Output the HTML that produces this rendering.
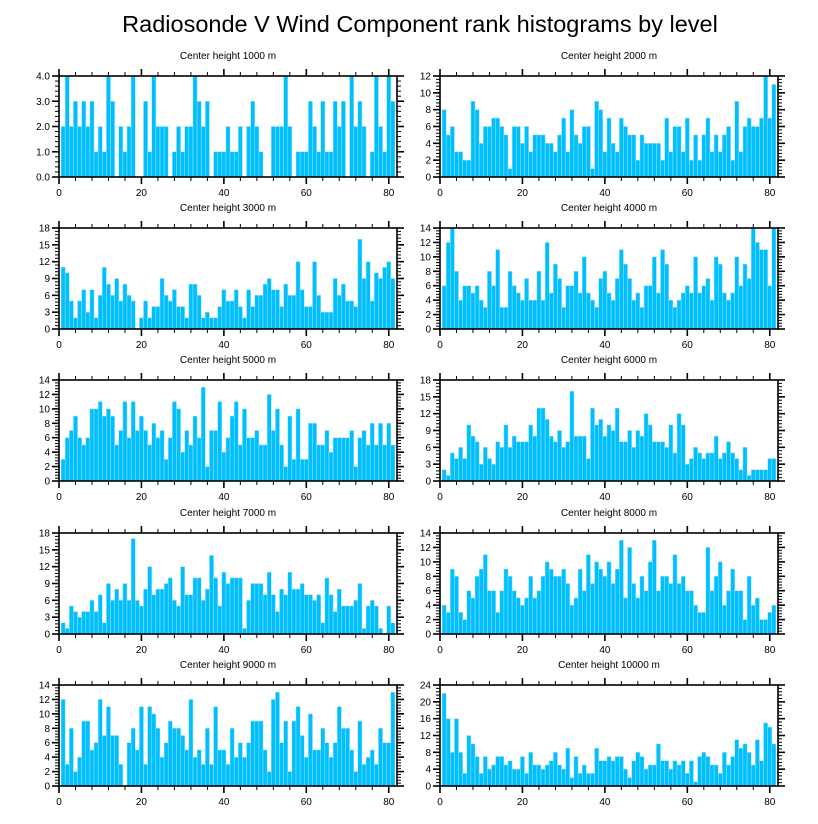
<!DOCTYPE html>
<html><head><meta charset="utf-8">
<style>
body{margin:0;background:#fff;}
svg{display:block;font-family:"Liberation Sans",Arial,sans-serif;}
</style></head>
<body>
<svg id="chart" width="818" height="824" viewBox="0 0 818 824">
<text x="420" y="32" font-size="23.5" text-anchor="middle" fill="#000">Radiosonde V Wind Component rank histograms by level</text>
</svg>
<script>
const levels = [1000,2000,3000,4000,5000,6000,7000,8000,9000,10000];
const yMax = [4,12,18,14,14,18,18,14,14,24];
const yStep = [1,2,3,2,2,3,3,2,2,4];
const xTicks = [0,20,40,60,80];
const h1000 = [2,4,2,3,2,3,2,3,1,2, 1,4,3,0,2,1,2,4,0,0, 3,1,4,2,2,2,0,1,2,1, 2,2,4,3,2,3,0,1,1,1, 2,1,1,2,0,2,3,2,1,0, 0,2,2,2,4,2,0,1,1,1, 3,2,1,3,1,1,3,2,3,0, 4,2,3,2,0,1,4,2,1,4, 3];
const h2000 = [8,5,6,3,3,2,2,9,8,4, 6,6,7,7,6,5,1,6,6,4, 6,3,5,5,5,4,4,3,5,7, 3,8,5,4,6,6,1,9,8,3, 7,4,3,7,6,5,5,2,5,4, 4,4,4,2,7,3,6,6,3,7, 2,5,2,5,7,3,5,3,5,6, 2,9,3,6,7,6,6,7,12,7, 11];
const h3000 = [11,10,5,2,5,7,3,7,2,6, 11,8,6,9,5,8,6,5,0,2, 5,2,4,4,9,6,5,7,4,4, 2,8,8,6,2,3,2,2,4,7, 5,5,7,4,2,7,4,6,6,8, 9,7,7,4,8,6,6,12,7,4, 4,12,6,3,3,3,9,6,8,5, 5,4,16,9,12,5,10,9,11,12, 9];
const h4000 = [6,12,14,8,4,6,6,5,6,4, 3,8,6,11,3,3,8,6,5,4, 7,4,4,8,4,12,5,9,7,3, 6,6,8,5,10,5,4,3,7,8, 5,4,7,11,9,7,4,5,3,6, 6,10,5,11,9,4,3,4,5,6, 5,10,5,6,7,4,10,9,5,4, 5,10,6,9,7,14,12,11,11,6, 14];
const h5000 = [3,6,7,9,6,5,6,10,10,11, 9,10,9,5,7,11,6,11,7,9, 7,5,8,6,7,3,6,11,10,4, 7,5,9,6,13,2,7,7,11,4, 6,9,11,5,10,6,6,7,5,5, 12,7,10,5,2,9,3,10,3,3, 8,8,5,5,7,4,6,6,6,6, 7,2,6,7,5,8,5,8,5,8, 5];
const h6000 = [2,1,5,4,6,4,10,8,7,3, 6,4,3,7,6,10,6,8,7,7, 7,10,8,13,13,11,8,7,9,6, 7,16,8,8,8,4,13,10,11,8, 10,9,13,7,7,9,6,9,8,12, 10,7,7,7,6,10,5,12,10,3, 4,6,5,4,5,5,8,4,5,7, 5,4,2,6,1,2,2,2,2,4, 4];
const h7000 = [2,1,5,4,3,4,4,6,4,7, 2,9,6,8,6,9,6,17,6,5, 8,12,7,8,8,9,10,6,5,12, 7,7,10,10,6,8,14,10,5,11, 9,10,10,10,1,6,9,9,9,7, 11,7,4,8,7,11,8,8,9,7, 7,6,7,2,10,7,4,8,5,5, 5,6,9,1,5,6,5,1,0,5, 2];
const h8000 = [4,3,9,8,3,2,6,5,8,9, 11,6,6,3,6,9,8,6,5,4, 5,8,5,6,8,10,9,8,8,9, 7,4,5,9,6,11,7,10,9,8, 10,7,9,13,5,12,7,5,8,6, 10,13,6,8,8,7,11,7,8,6, 6,4,3,3,12,6,8,10,4,6, 9,6,6,2,8,4,5,2,2,3, 4];
const h9000 = [12,3,8,2,4,9,9,5,6,12, 7,11,7,7,3,0,6,8,5,11, 3,11,10,8,4,6,9,8,8,7, 5,12,4,5,3,8,3,11,5,5, 3,8,4,6,4,6,9,9,9,5, 2,12,13,6,9,2,9,11,7,4, 10,5,5,8,6,4,6,11,8,8, 5,2,9,3,4,5,3,8,6,6, 13];
const h10000 = [22,16,8,16,8,3,12,10,7,3, 7,4,5,7,7,5,6,4,4,7, 3,8,5,5,4,5,6,8,5,4, 9,2,7,3,5,3,3,9,6,6, 7,6,7,7,4,2,6,8,7,4, 5,5,10,6,6,4,6,5,6,3, 6,1,7,8,7,5,5,3,8,5, 7,11,9,10,8,5,11,6,15,14, 10];
const series = [h1000,h2000,h3000,h4000,h5000,h6000,h7000,h8000,h9000,h10000];

const NS = "http://www.w3.org/2000/svg";
const svg = document.getElementById('chart');
function mk(tag, attrs, parent){
  const e = document.createElementNS(NS, tag);
  for (const k in attrs) e.setAttribute(k, attrs[k]);
  (parent||svg).appendChild(e);
  return e;
}
const colX = [59, 440], W = 338;
const rowY = [76, 228, 380, 533, 685], H = 101;
const X_MAX = 82;

series.forEach((vals, p) => {
  const left = colX[p % 2], top = rowY[Math.floor(p / 2)];
  const g = mk('g', {});
  
  
  const xs = v => left + v / X_MAX * W;
  const ys = v => top + H - v / yMax[p] * H;
  const sub = mk('text', {x: left + W/2, y: top - 17, 'font-size': 10, 'text-anchor': 'middle', fill: '#000'}, g);
  sub.textContent = 'Center height ' + levels[p] + ' m';
  
  
  vals.forEach((v, i) => {
    if (v <= 0) return;
    const c = i + 1;
    const r = mk('rect', {x: xs(c - 0.5), y: ys(v), width: xs(c + 0.5) - xs(c - 0.5), height: ys(0) - ys(v), fill: '#00BFFF', stroke: '#9fe3ff', 'stroke-width': 0.5}, g);
    
    
  });
  const fr = mk('rect', {x: left, y: top, width: W, height: H, fill: 'none', stroke: '#000', 'stroke-width': 1.6}, g);
  
  
  for (let v = 0; v <= 80; v += 4) {
    const major = xTicks.includes(v);
    const L = major ? 7 : 4;
    const x = xs(v);
    mk('line', {x1: x, x2: x, y1: top + H, y2: top + H + L, stroke: '#000', 'stroke-width': major ? 1.6 : 1}, g);
    mk('line', {x1: x, x2: x, y1: top, y2: top - L, stroke: '#000', 'stroke-width': major ? 1.6 : 1}, g);
  }
  xTicks.forEach(v => {
    const t = mk('text', {x: xs(v), y: top + H + 19, 'font-size': 10, 'text-anchor': 'middle', fill: '#000'}, g);
    t.textContent = v;
    
    
  });
  const minor = yStep[p] / 5;
  for (let k = 0; k * minor <= yMax[p] + 1e-9; k++) {
    const v = k * minor;
    const major = k % 5 === 0;
    const L = major ? 7 : 4;
    const y = ys(v);
    mk('line', {x1: left, x2: left - L, y1: y, y2: y, stroke: '#000', 'stroke-width': major ? 1.6 : 1}, g);
    mk('line', {x1: left + W, x2: left + W + L, y1: y, y2: y, stroke: '#000', 'stroke-width': major ? 1.6 : 1}, g);
  }
  for (let v = 0; v <= yMax[p] + 1e-9; v += yStep[p]) {
    const t = mk('text', {x: left - 9, y: ys(v) + 3.5, 'font-size': 10, 'text-anchor': 'end', fill: '#000'}, g);
    t.textContent = p === 0 ? v.toFixed(1) : v;
    
    
  }
});
</script>
</body></html>
